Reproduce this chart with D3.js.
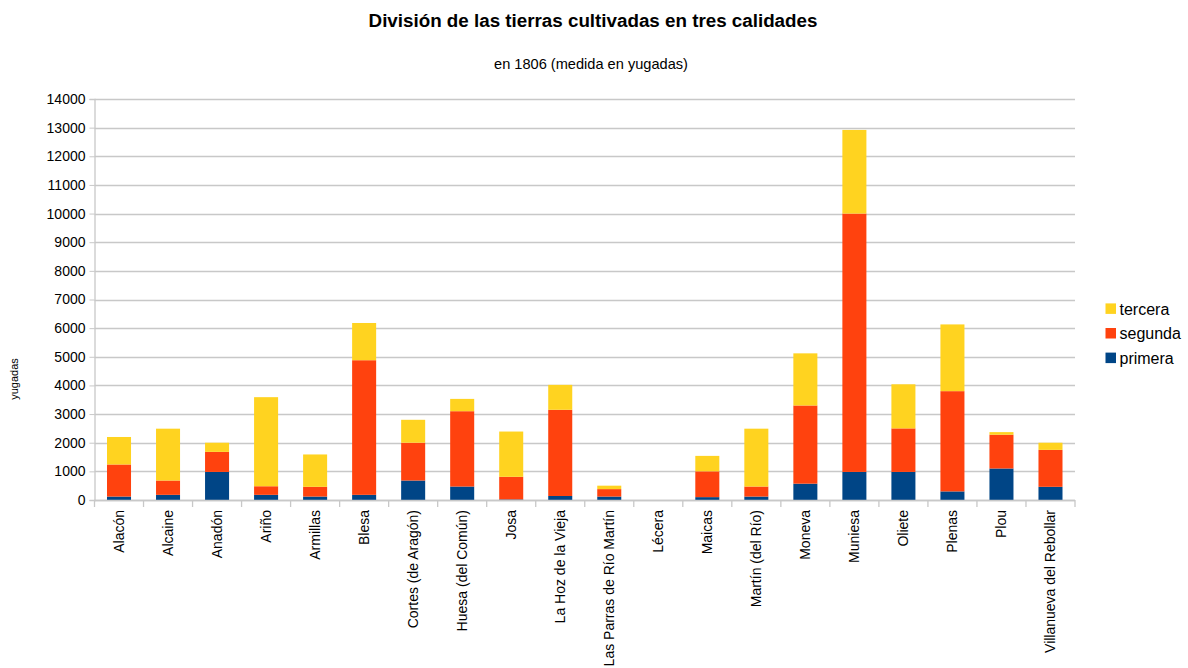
<!DOCTYPE html>
<html><head><meta charset="utf-8">
<script src="https://cdn.jsdelivr.net/npm/d3@7"></script>
<style>body{margin:0;background:#fff;} svg{display:block;font-family:"Liberation Sans",Arial,sans-serif;}</style>
</head><body>
<svg id="c" width="1188" height="668"></svg>
<script>
const categories = ["Alacón","Alcaine","Anadón","Ariño","Armillas","Blesa","Cortes (de Aragón)","Huesa (del Común)","Josa","La Hoz de la Vieja","Las Parras de Río Martín","Lécera","Maicas","Martín (del Río)","Moneva","Muniesa","Oliete","Plenas","Plou","Villanueva del Rebollar"];
const primera = [120,180,980,180,120,180,680,470,20,140,120,0,100,120,570,980,980,300,1100,460];
const segunda = [1120,500,700,300,340,4700,1320,2630,790,3010,260,0,900,350,2730,9020,1520,3500,1180,1290];
const tercera = [960,1810,320,3110,1130,1300,800,430,1580,870,120,0,540,2020,1820,2920,1540,2330,90,250];
const seriesNames = ["primera","segunda","tercera"];
const colors = {primera:"#004586", segunda:"#ff420e", tercera:"#ffd320"};
const yTicks = d3.range(0, 14001, 1000);

const svg = d3.select("#c");
const m = {left:94.5, right:1075, top:99, bottom:500};
const x = d3.scaleBand().domain(categories).range([m.left, m.right]).paddingInner(0.51).paddingOuter(0.255);
const y = d3.scaleLinear().domain([0,14000]).range([m.bottom, m.top]);

// gridlines
svg.append("g").selectAll("line").data(yTicks).join("line")
  .attr("x1", m.left).attr("x2", m.right)
  .attr("y1", d=>Math.round(y(d))+0.5).attr("y2", d=>Math.round(y(d))+0.5)
  .attr("stroke","#c8c8c8").attr("stroke-width",1.3);

// y axis
const ya = svg.append("g").attr("transform",`translate(${m.left},0)`)
  .call(d3.axisLeft(y).tickValues(yTicks).tickSize(5).tickPadding(4).tickFormat(d3.format("d")));
ya.select(".domain").attr("stroke","#c8c8c8").attr("stroke-width",1.3);
ya.selectAll(".tick line").attr("stroke","#c8c8c8");
ya.selectAll(".tick text").attr("font-size",14).attr("fill","#000").attr("font-family","Liberation Sans, Arial, sans-serif");

// stacked bars
const table = categories.map((c,i)=>({cat:c, primera:primera[i], segunda:segunda[i], tercera:tercera[i]}));
const stacked = d3.stack().keys(seriesNames)(table);
svg.append("g").selectAll("g").data(stacked).join("g")
  .attr("fill", d=>colors[d.key])
  .selectAll("rect").data(d=>d).join("rect")
  .attr("x", d=>x(d.data.cat))
  .attr("width", x.bandwidth())
  .attr("y", d=>y(d[1]))
  .attr("height", d=>Math.max(0, y(d[0])-y(d[1])));

// x axis
const step = x.step();
const bounds = d3.range(categories.length+1).map(i=>m.left + i*step);
svg.append("line").attr("x1",m.left).attr("x2",m.right).attr("y1",m.bottom+0.5).attr("y2",m.bottom+0.5)
  .attr("stroke","#c8c8c8").attr("stroke-width",1.3);
svg.append("g").selectAll("line").data(bounds).join("line")
  .attr("x1",d=>d).attr("x2",d=>d).attr("y1",m.bottom).attr("y2",m.bottom+7)
  .attr("stroke","#c8c8c8").attr("stroke-width",1.3);
svg.append("g").selectAll("text").data(categories).join("text")
  .attr("transform", d=>`translate(${x(d)+x.bandwidth()/2+5},${m.bottom+10}) rotate(-90)`)
  .attr("text-anchor","end").attr("font-size",14).attr("fill","#000")
  .text(d=>d);

// titles
svg.append("text").attr("x",593).attr("y",27).attr("text-anchor","middle")
  .attr("font-size",18.8).attr("font-weight","bold").text("División de las tierras cultivadas en tres calidades");
svg.append("text").attr("x",591).attr("y",69).attr("text-anchor","middle")
  .attr("font-size",14.6).text("en 1806 (medida en yugadas)");
svg.append("text").attr("transform","translate(18,379) rotate(-90)").attr("text-anchor","middle")
  .attr("font-size",11).text("yugadas");

// legend
const legendItems = ["tercera","segunda","primera"];
const lg = svg.append("g").selectAll("g").data(legendItems).join("g")
  .attr("transform",(d,i)=>`translate(1105.5,${308.7 + i*24.6})`);
lg.append("rect").attr("x",0).attr("y",-5.3).attr("width",10.5).attr("height",10.5).attr("fill",d=>colors[d]);
lg.append("text").attr("x",14).attr("y",5.8).attr("font-size",16).text(d=>d);
</script>
</body></html>
